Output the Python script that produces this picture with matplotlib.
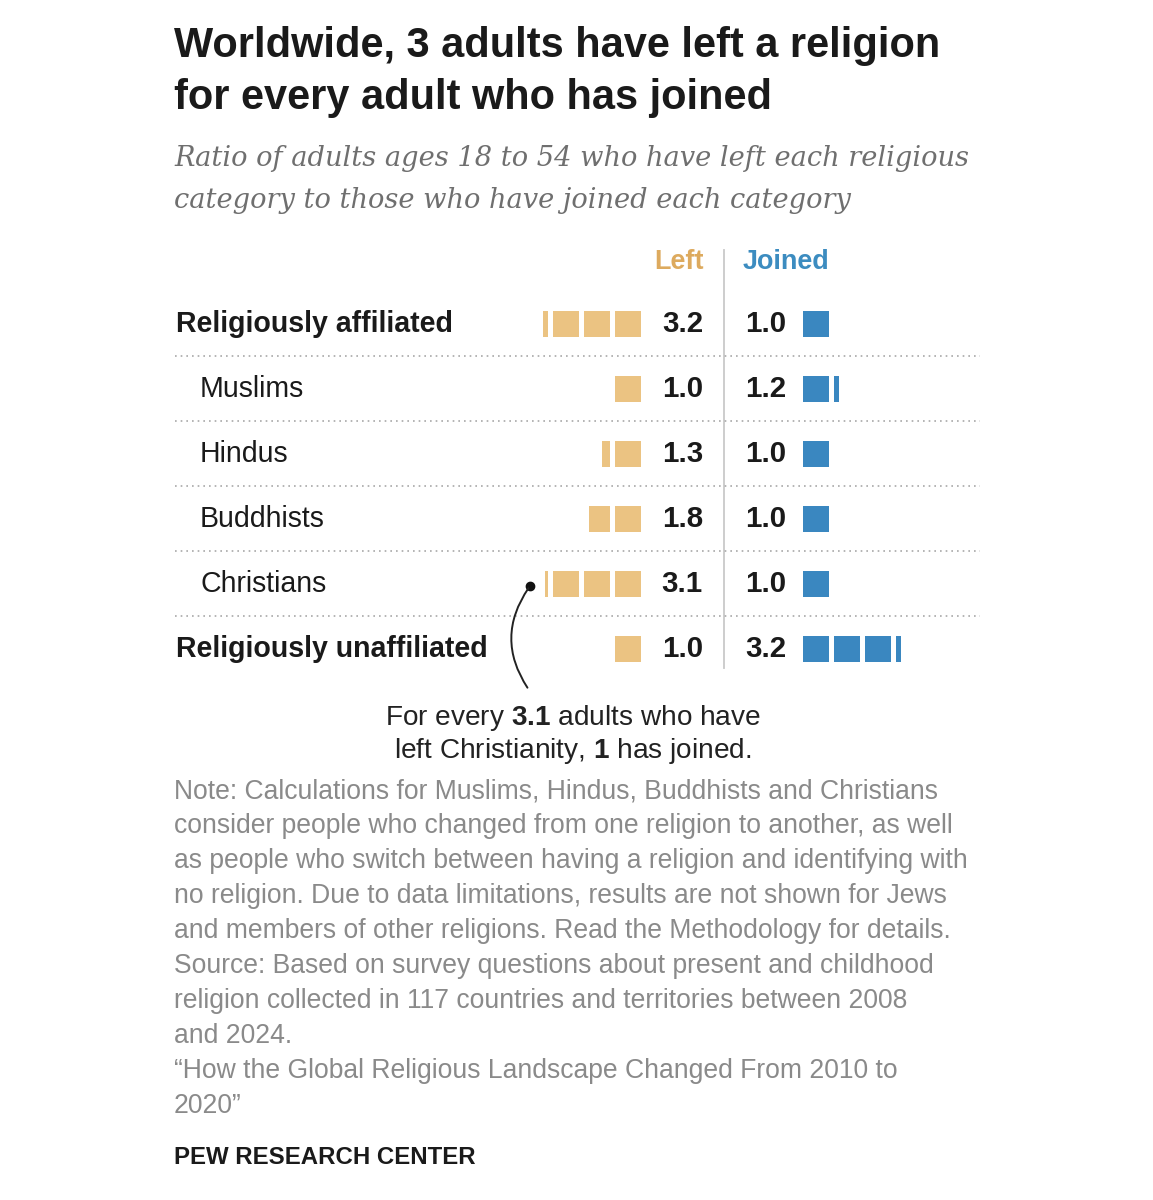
import matplotlib
matplotlib.use("Agg")
import matplotlib.pyplot as plt
import math

# ---------------- data ----------------
categories = ["Religiously affiliated", "Muslims", "Hindus", "Buddhists",
              "Christians", "Religiously unaffiliated"]
is_group = [True, False, False, False, False, True]
left_vals = [3.2, 1.0, 1.3, 1.8, 3.1, 1.0]
joined_vals = [1.0, 1.2, 1.0, 1.0, 1.0, 3.2]

title_lines = ["Worldwide, 3 adults have left a religion",
               "for every adult who has joined"]
subtitle_lines = ["Ratio of adults ages 18 to 54 who have left each religious",
                  "category to those who have joined each category"]
note_lines = [
    "Note: Calculations for Muslims, Hindus, Buddhists and Christians",
    "consider people who changed from one religion to another, as well",
    "as people who switch between having a religion and identifying with",
    "no religion. Due to data limitations, results are not shown for Jews",
    "and members of other religions. Read the Methodology for details.",
    "Source: Based on survey questions about present and childhood",
    "religion collected in 117 countries and territories between 2008",
    "and 2024.",
    "\u201cHow the Global Religious Landscape Changed From 2010 to",
    "2020\u201d",
]

# ---------------- style ----------------
W, H = 1153, 1200
TAN = "#EBC382"
BLUE = "#3A87C0"
TAN_TXT = "#DDAA5E"
BLUE_TXT = "#3C8CC0"
SANS = ["Liberation Sans", "DejaVu Sans"]
SERIF = ["DejaVu Serif"]

plt.rcParams["mathtext.fontset"] = "custom"
plt.rcParams["mathtext.rm"] = "Liberation Sans"
plt.rcParams["mathtext.bf"] = "Liberation Sans:bold"

def pt(px):
    return px * 0.72

fig = plt.figure(figsize=(W / 100, H / 100), dpi=100)
ax = fig.add_axes([0, 0, 1, 1])
ax.set_xlim(0, W)
ax.set_ylim(H, 0)
ax.axis("off")

# title & subtitle
for i, t in enumerate(title_lines):
    ax.text(174, 46 + 52 * i, t, fontsize=pt(41.5), fontweight="bold",
            family=SANS, color="#1a1a1a", va="center", ha="left")
for i, t in enumerate(subtitle_lines):
    ax.text(174, 159 + 42 * i, t, fontsize=pt(27.3), style="italic",
            family=SERIF, color="#6f6f6f", va="center", ha="left")

# layout
row_y0, row_dy = 324, 65
div_x = 724
left_edge = 641      # right edge of first left square
right_edge = 803     # left edge of first joined square
sq = 26
pitch = 31

ax.text(div_x - 20, 262, "Left", fontsize=pt(27), fontweight="bold",
        family=SANS, color=TAN_TXT, ha="right", va="center")
ax.text(div_x + 19, 262, "Joined", fontsize=pt(27), fontweight="bold",
        family=SANS, color=BLUE_TXT, ha="left", va="center")
ax.plot([div_x, div_x], [250, 668], color="#c9c9c9", lw=1.3, zorder=1)

for i, (cat, grp, lv, jv) in enumerate(zip(categories, is_group, left_vals, joined_vals)):
    y = row_y0 + row_dy * i
    ax.text(176 if grp else 200, y, cat, fontsize=pt(28.5),
            fontweight="bold" if grp else "normal", family=SANS,
            color="#1a1a1a", ha="left", va="center")
    # left squares
    full = int(math.floor(lv + 1e-9))
    frac = round(lv - full, 2)
    for k in range(full):
        ax.barh(y, sq, left=left_edge - k * pitch - sq, height=sq, color=TAN, lw=0)
    if frac > 0:
        r = left_edge - full * pitch
        ax.barh(y, sq * frac, left=r - sq * frac, height=sq, color=TAN, lw=0)
    # joined squares
    full = int(math.floor(jv + 1e-9))
    frac = round(jv - full, 2)
    for k in range(full):
        ax.barh(y, sq, left=right_edge + k * pitch, height=sq, color=BLUE, lw=0)
    if frac > 0:
        ax.barh(y, sq * frac, left=right_edge + full * pitch, height=sq, color=BLUE, lw=0)
    ax.text(div_x - 21, y, f"{lv:.1f}", fontsize=pt(29.5), fontweight="bold",
            family=SANS, color="#1a1a1a", ha="right", va="center")
    ax.text(div_x + 21, y, f"{jv:.1f}", fontsize=pt(29.5), fontweight="bold",
            family=SANS, color="#1a1a1a", ha="left", va="center")
    if i < len(categories) - 1:
        ax.plot([175, 980], [y + 32, y + 32], color="#a8a8a8", lw=1.2,
                ls=(0, (1, 2.4)), zorder=1)

# annotation for Christians
ci = categories.index("Christians")
cy = row_y0 + row_dy * ci
ax.plot([530], [cy + 2], "o", color="#111111", ms=6)
ax.annotate("", xy=(530, cy + 2), xytext=(529, 690),
            arrowprops=dict(arrowstyle="-", color="#222222", lw=1.4,
                            connectionstyle="arc3,rad=-0.35"))
ax.text(573, 718, r"For every $\bf{3.1}$ adults who have", fontsize=pt(28),
        family=SANS, color="#222222", ha="center", va="center")
ax.text(573, 751, r"left Christianity, $\bf{1}$ has joined.", fontsize=pt(28),
        family=SANS, color="#222222", ha="center", va="center")

for i, t in enumerate(note_lines):
    ax.text(174, 791 + 35 * i, t, fontsize=pt(26.5), family=SANS,
            color="#8a8a8a", ha="left", va="center")

ax.text(174, 1157, "PEW RESEARCH CENTER", fontsize=pt(24), fontweight="bold",
        family=SANS, color="#1a1a1a", ha="left", va="center")

fig.savefig("out.png", dpi=100, facecolor="white")
